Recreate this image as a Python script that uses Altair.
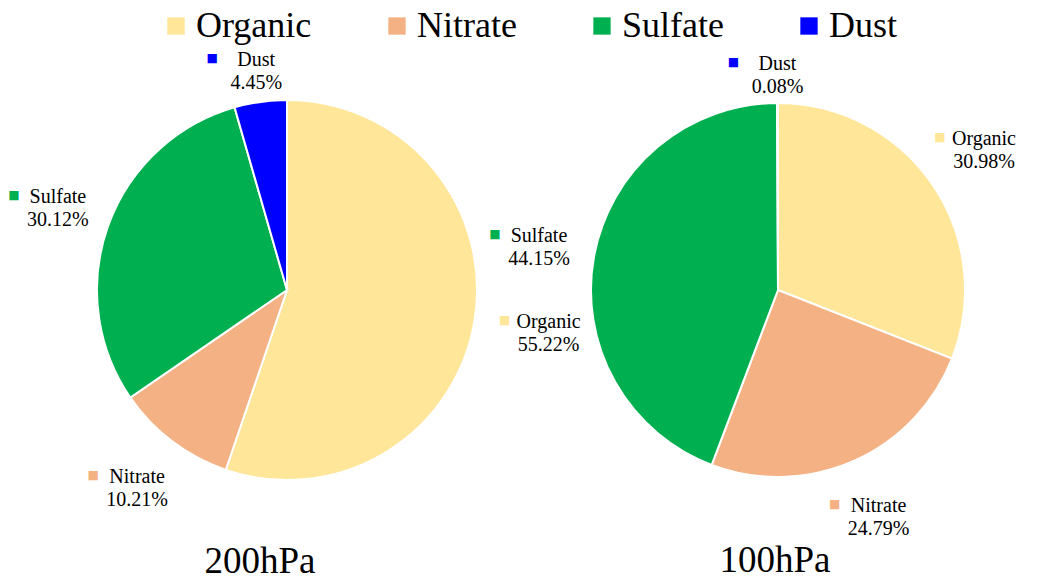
import altair as alt
import pandas as pd

categories = ["Organic", "Nitrate", "Sulfate", "Dust"]
colors = ["#FFE699", "#F4B183", "#00B050", "#0000FF"]
share_200 = [55.22, 10.21, 30.12, 4.45]
share_100 = [30.98, 24.79, 44.15, 0.08]
panel_titles = ["200hPa", "100hPa"]

SERIF = "Liberation Serif"


def frame(vals):
    return pd.DataFrame({
        "cat": categories,
        "value": vals,
        "ord": list(range(len(categories))),
        "label": [f"{c}\n{v:.2f}%" for c, v in zip(categories, vals)],
    })


color = alt.Color(
    "cat:N",
    scale=alt.Scale(domain=categories, range=colors),
    sort=categories,
    legend=alt.Legend(
        title=None, orient="none", legendX=150, legendY=-43,
        direction="horizontal", symbolType="square", symbolSize=300,
        symbolStrokeWidth=0, labelFont=SERIF, labelFontSize=36,
        labelOffset=2, columnPadding=67, labelColor="black",
    ),
)


def pie(vals, title, r, w, tdx, tdy):
    src = alt.Chart(frame(vals))
    arcs = src.mark_arc(radius=r, stroke="white", strokeWidth=2).encode(
        theta=alt.Theta("value:Q", stack=True),
        order=alt.Order("ord:Q"),
        color=color,
    )
    # mid-angle of each slice, and a label distance that sits outside the rim
    placed = src.transform_joinaggregate(
        total="sum(value)"
    ).transform_window(
        cum="sum(value)", sort=[alt.SortField("ord")], frame=[None, 0]
    ).transform_calculate(
        midv="datum.cum - datum.value/2"
    ).transform_calculate(
        mid="2*PI*datum.midv/datum.total"
    ).transform_calculate(
        rlab=f"{r} + 38 + 28*abs(sin(datum.mid)) + 8*sin(datum.mid) - 10*cos(datum.mid)"
    ).encode(
        theta=alt.Theta("midv:Q", stack=None),
        radius=alt.Radius("rlab:Q", scale=None),
    )
    labels = placed.mark_text(
        font=SERIF, fontSize=20, lineHeight=23, lineBreak="\n",
        align="center", baseline="middle", color="black", dy=-11,
    ).encode(text="label:N")
    keys = placed.mark_text(
        text="■", font="DejaVu Sans", fontSize=12,
        dx=-44, dy=-13, align="center", baseline="middle",
    ).encode(color=color)
    return alt.layer(arcs, labels, keys).properties(
        width=w, height=478,
        title=alt.TitleParams(
            title, orient="bottom", anchor="middle", frame="group", font=SERIF,
            fontSize=37, fontWeight="normal", color="black", offset=15,
            dx=tdx, dy=tdy,
        ),
    )


chart = alt.hconcat(
    pie(share_200, panel_titles[0], 190, 558, -27, 0),
    pie(share_100, panel_titles[1], 187, 424, -3, -11),
    spacing=0,
    bounds="flush",
).properties(padding=0).configure_view(stroke=None)

chart.save("out.html", embed_options={"renderer": "svg", "actions": False})
